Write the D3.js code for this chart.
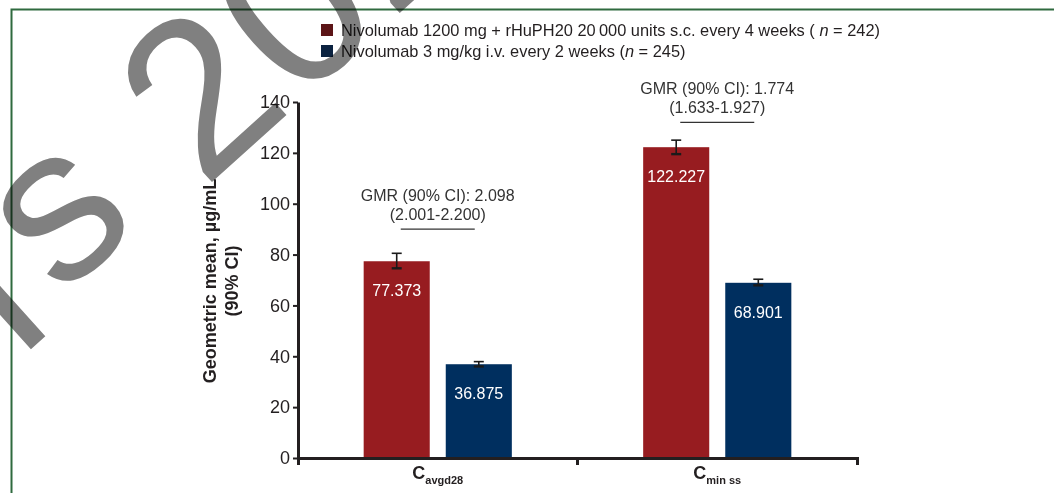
<!DOCTYPE html>
<html>
<head>
<meta charset="utf-8">
<script src="https://cdn.jsdelivr.net/npm/d3@7"></script>
<style>
  html, body { margin: 0; padding: 0; background: #ffffff; }
  svg { display: block; font-family: "Liberation Sans", Arial, Helvetica, sans-serif; }
</style>
</head>
<body>
<svg id="chart" width="1054" height="493"></svg>
<script>
// ---- data ----
const categories = ["Cavgd28", "Cminss"];
const categoryMain = ["C", "C"];
const categorySub = ["avgd28", "min ss"];

const seriesKeys = ["sc", "iv"];
const seriesLabels = [
  ["Nivolumab 1200 mg + rHuPH20 20\u2009000 units s.c. every 4 weeks ( ", "n", " = 242)"],
  ["Nivolumab 3 mg/kg i.v. every 2 weeks (", "n", " = 245)"]
];

// geometric means and 90% CI bounds, per category
const scMean = [77.373, 122.227];
const scLow  = [74.6, 119.5];
const scHigh = [80.5, 125.0];
const ivMean = [36.875, 68.901];
const ivLow  = [36.0, 67.9];
const ivHigh = [37.9, 70.3];

const gmrLine1 = ["GMR (90% CI): 2.098", "GMR (90% CI): 1.774"];
const gmrLine2 = ["(2.001-2.200)", "(1.633-1.927)"];

const yTicks = [0, 20, 40, 60, 80, 100, 120, 140];

// ---- layout ----
const W = 1054, H = 493;
const plot = { left: 298, right: 857, top: 102, bottom: 458 };
const barColors = { sc: "#971c20", iv: "#002f5f" };
const legendColors = { sc: "#5c1517", iv: "#0b2240" };
const ink = "#231f20";
const gmrAt = [90, 132];   // bracket height (axis units) above each group

const svg = d3.select("#chart");

const y = d3.scaleLinear().domain([0, 140]).range([plot.bottom, plot.top]);
const x = d3.scaleBand().domain(categories).range([plot.left, plot.right]);
const inner = d3.scaleBand().domain(seriesKeys).range([0, x.bandwidth()])
  .paddingInner(0.195).paddingOuter(0.8);

const rows = categories.map((c, i) => ({
  cat: c,
  i,
  sc: { mean: scMean[i], lo: scLow[i], hi: scHigh[i] },
  iv: { mean: ivMean[i], lo: ivLow[i], hi: ivHigh[i] }
}));
const barData = rows.flatMap(r => seriesKeys.map(k => ({ cat: r.cat, key: k, ...r[k] })));

// ---- background frame ----
svg.append("path")
  .attr("d", `M11.5,${H} V9.5 H${W}`)
  .attr("fill", "none")
  .attr("stroke", "#2f6a3f")
  .attr("stroke-width", 2);

// ---- bars ----
const fmt = d3.format(".3f");
const bars = svg.append("g");
bars.selectAll("rect").data(barData).join("rect")
  .attr("x", d => x(d.cat) + inner(d.key))
  .attr("width", inner.bandwidth())
  .attr("y", d => y(d.mean))
  .attr("height", d => y(0) - y(d.mean))
  .attr("fill", d => barColors[d.key]);

bars.selectAll("text.val").data(barData).join("text")
  .attr("class", "val")
  .attr("x", d => x(d.cat) + inner(d.key) + inner.bandwidth() / 2)
  .attr("y", d => y(d.mean) + 35)
  .attr("text-anchor", "middle")
  .attr("font-size", 16)
  .attr("fill", "#ffffff")
  .text(d => fmt(d.mean));

// ---- error bars ----
const err = svg.append("g").attr("stroke", "#1a1a1a").attr("stroke-width", 1.6).attr("fill", "none");
const cx = d => x(d.cat) + inner(d.key) + inner.bandwidth() / 2;
err.selectAll("line.v").data(barData).join("line").attr("class", "v")
  .attr("x1", cx).attr("x2", cx)
  .attr("y1", d => y(d.hi)).attr("y2", d => y(d.lo));
err.selectAll("line.hi").data(barData).join("line").attr("class", "hi")
  .attr("x1", d => cx(d) - 5).attr("x2", d => cx(d) + 5)
  .attr("y1", d => y(d.hi)).attr("y2", d => y(d.hi));
err.selectAll("line.lo").data(barData).join("line").attr("class", "lo")
  .attr("x1", d => cx(d) - 5).attr("x2", d => cx(d) + 5)
  .attr("y1", d => y(d.lo)).attr("y2", d => y(d.lo))
  .attr("stroke-width", 2.4);

// ---- GMR annotations ----
const gmr = svg.append("g").attr("fill", "#333333").attr("font-size", 16).attr("text-anchor", "middle");
rows.forEach(r => {
  const mid = x(r.cat) + x.bandwidth() / 2;
  const ly = y(gmrAt[r.i]);
  gmr.append("text").attr("x", mid).attr("y", ly - 28).text(gmrLine1[r.i]);
  gmr.append("text").attr("x", mid).attr("y", ly - 9).text(gmrLine2[r.i]);
  gmr.append("line")
    .attr("x1", mid - 37).attr("x2", mid + 37)
    .attr("y1", ly).attr("y2", ly)
    .attr("stroke", "#333333").attr("stroke-width", 1.2);
});

// ---- axes ----
const yAxis = svg.append("g")
  .attr("transform", `translate(${plot.left},0)`)
  .call(d3.axisLeft(y).tickValues(yTicks).tickSize(5).tickSizeOuter(0).tickPadding(3));
yAxis.select(".domain").attr("stroke", ink).attr("stroke-width", 3);
yAxis.selectAll(".tick line").attr("stroke", ink).attr("stroke-width", 2);
yAxis.selectAll(".tick text")
  .attr("font-size", 18).attr("fill", ink)
  .attr("font-family", "'Liberation Sans', Arial, sans-serif");

const xAxis = svg.append("g")
  .attr("transform", `translate(0,${plot.bottom})`)
  .call(d3.axisBottom(x).tickSize(0).tickSizeOuter(7).tickPadding(10));
xAxis.select(".domain").attr("stroke", ink).attr("stroke-width", 3);
// divider tick between the two groups
xAxis.append("line")
  .attr("x1", x(categories[1])).attr("x2", x(categories[1]))
  .attr("y1", 0).attr("y2", 7)
  .attr("stroke", ink).attr("stroke-width", 3);
xAxis.selectAll(".tick text").each(function(d, i) {
  const t = d3.select(this).text(null)
    .attr("font-family", "'Liberation Sans', Arial, sans-serif")
    .attr("font-weight", "bold").attr("fill", ink)
    .attr("y", 21).attr("dy", 0);
  t.append("tspan").attr("font-size", 18).text(categoryMain[i]);
  t.append("tspan").attr("font-size", 11).attr("dy", 5).text(categorySub[i]);
});

// ---- y axis title ----
const yTitle = svg.append("text")
  .attr("transform", "translate(216,281) rotate(-90)")
  .attr("text-anchor", "middle")
  .attr("font-weight", "bold")
  .attr("font-size", 18)
  .attr("fill", ink);
yTitle.append("tspan").attr("x", 0).attr("dy", 0).text("Geometric mean, \u00b5g/mL");
yTitle.append("tspan").attr("x", 0).attr("dy", 22).text("(90% CI)");

// ---- legend ----
const legend = svg.append("g").attr("transform", "translate(321,24)");
seriesKeys.forEach((k, i) => {
  const g = legend.append("g").attr("transform", `translate(0,${i * 21})`);
  g.append("rect").attr("width", 12).attr("height", 12).attr("fill", legendColors[k]);
  const t = g.append("text").attr("x", 20).attr("y", 12).attr("font-size", 16.4).attr("fill", ink);
  t.append("tspan").text(seriesLabels[i][0]);
  t.append("tspan").attr("font-style", "italic").text(seriesLabels[i][1]);
  t.append("tspan").text(seriesLabels[i][2]);
});

// ---- diagonal watermark ----
const wm = svg.append("text")
  .attr("transform", "translate(20,359) rotate(-42)")
  .attr("font-size", 220)
  .attr("letter-spacing", 4)
  .attr("fill", "#808080")
  .style("mix-blend-mode", "multiply");
wm.append("tspan").text("i");
wm.append("tspan").attr("dx", 18).attr("dy", -18).text("s ");
wm.append("tspan").attr("dy", 15).text("202");
</script>
</body>
</html>
